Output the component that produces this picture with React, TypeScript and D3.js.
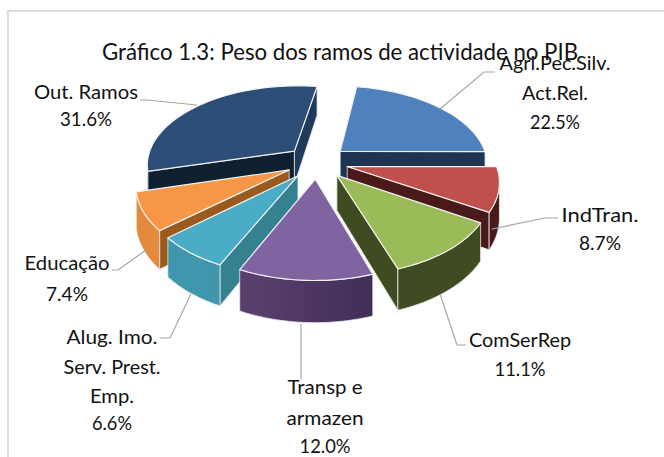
import React from "react";
import * as d3 from "d3";

const categories = ["Agri.Pec.Silv. Act.Rel.", "IndTran.", "ComSerRep", "Transp e armazen", "Alug. Imo. Serv. Prest. Emp.", "Educação", "Out. Ramos"];
const values = [22.5, 8.7, 11.1, 12.0, 6.6, 7.4, 31.6];
const labelLines = [
  ["Agri.Pec.Silv.", "Act.Rel.", "22.5%"],
  ["IndTran.", "8.7%"],
  ["ComSerRep", "11.1%"],
  ["Transp e", "armazen", "12.0%"],
  ["Alug. Imo.", "Serv. Prest.", "Emp.", "6.6%"],
  ["Educação", "7.4%"],
  ["Out. Ramos", "31.6%"],
];
const topColors = ["#4f81bd", "#c0504d", "#9bbb59", "#8064a2", "#4bacc6", "#f79646", "#2c4d75"];
const wallLeft = ["#1d3553", "#6a2523", "#3f4b20", "#5e4272", "#3f97ae", "#e48a3c", "#16293f"];
const wallRight = ["#1d3553", "#4a1a1a", "#3f4b20", "#3a2a50", "#35798c", "#c67a30", "#16293f"];
const cutStart = ["#1d3553", "#4a1a1a", "#3f4b20", "#3a2a50", "#35818f", "#9a5a1e", "#0f2030"];
const cutEnd = ["#1d3553", "#4a1a1a", "#3f4b20", "#3a2a50", "#35818f", "#9a5a1e", "#1f3b5c"];

// layout
const paintOrder = [6, 0, 1, 5, 4, 2, 3];
const labelLayout = [
  { x: 555, ys: [70, 100, 129], ws: [111, 66, 50] },
  { x: 600, ys: [222, 250], ws: [77, 42] },
  { x: 520, ys: [347, 376], ws: [102, 51] },
  { x: 325, ys: [394, 425, 453], ws: [75, 77, 51] },
  { x: 112, ys: [344, 374, 403, 430], ws: [91, 97, 44, 40] },
  { x: 67, ys: [270, 301], ws: [85, 42] },
  { x: 86, ys: [99, 126], ws: [104, 52] },
];
const leaders: [number, number][][] = [
  [[440, 109], [484, 72], [495, 72]],
  [[492, 229], [545, 218], [558, 218]],
  [[440, 294], [457, 345], [466, 345]],
  [[301, 324], [301, 379]],
  [[191, 294], [170, 338], [160, 338]],
  [[146, 250], [118, 270], [112, 270]],
  [[197, 105], [147, 100], [140, 100]],
];
const cx = 317, cy = 162, Rx = 148, Ry = 79, persp = 0.16, explode = 0.21, H = 34;
const FONT = "Lato, 'Open Sans', sans-serif";

const pieGen = d3.pie<number>().sort(null).startAngle((9 * Math.PI) / 180).endAngle((369 * Math.PI) / 180);
const arcs = pieGen(values);

type Pt = { x: number; y: number; f: number };
const project = (u: number, v: number): Pt => {
  const f = 1 / (1 - persp * v);
  return { x: cx + Rx * u * f, y: cy + Ry * v * f, f };
};
const lineGen = d3.line<[number, number]>();
const drop = (p: Pt): [number, number] => [p.x, p.y + H * p.f];
const top = (p: Pt): [number, number] => [p.x, p.y];

export default function App() {
  return (
    <svg width={664} height={457} style={{ position: "absolute", left: 0, top: 0, background: "#fff" }}>
      <defs>
        {arcs.map((a, i) => {
          const mid = (a.startAngle + a.endAngle) / 2;
          const e = project(explode * Math.sin(mid), -explode * Math.cos(mid));
          return (
            <linearGradient key={i} id={`g${i}`} gradientUnits="userSpaceOnUse" x1={e.x - 90} x2={e.x + 90} y1={0} y2={0}>
              <stop offset="0" stopColor={wallLeft[i]} />
              <stop offset="1" stopColor={wallRight[i]} />
            </linearGradient>
          );
        })}
      </defs>
      <rect x={8} y={11} width={700} height={500} fill="#fff" stroke="#dcdcdc" strokeWidth={2} />
      {paintOrder.map((i) => {
        const a = arcs[i];
        const mid = (a.startAngle + a.endAngle) / 2;
        const eu = explode * Math.sin(mid), ev = -explode * Math.cos(mid);
        const apex = project(eu, ev);
        const rim = d3.range(0, 41).map((k) => {
          const t = a.startAngle + ((a.endAngle - a.startAngle) * k) / 40;
          return project(eu + Math.sin(t), ev - Math.cos(t));
        });
        const first = rim[0], last = rim[rim.length - 1];
        const front = rim.filter((p, k) => k < rim.length - 1 && rim[k + 1].x < p.x || (k > 0 && rim[k - 1].x > p.x));
        const topPath = lineGen([top(apex), ...rim.map(top)]) + "Z";
        const quad = (p: Pt, q: Pt) => lineGen([top(p), top(q), drop(q), drop(p)]) + "Z";
        return (
          <g key={i}>
            {first.x < apex.x && <path d={quad(apex, first)} fill={cutStart[i]} stroke="#e8e8e8" strokeWidth={0.8} />}
            {last.x > apex.x && <path d={quad(last, apex)} fill={cutEnd[i]} stroke="#e8e8e8" strokeWidth={0.8} />}
            {front.length > 1 && (
              <path
                d={lineGen([...front.map(top), ...front.slice().reverse().map(drop)]) + "Z"}
                fill={`url(#g${i})`}
                stroke="#e8e8e8"
                strokeWidth={0.8}
              />
            )}
            <path d={topPath} fill={topColors[i]} stroke="#f2f2f2" strokeWidth={1.2} strokeLinejoin="round" />
          </g>
        );
      })}
      {leaders.map((l, i) => (
        <path key={i} d={lineGen(l) ?? ""} fill="none" stroke="#a6a6a6" strokeWidth={1.2} />
      ))}
      <text x={102} y={60} textLength={476} lengthAdjust="spacingAndGlyphs" fontFamily={FONT} fontSize={23} fill="#111">
        Gráfico 1.3: Peso dos ramos de actividade no PIB
      </text>
      {labelLines.map((lines, i) =>
        lines.map((t, j) => (
          <text
            key={`${i}-${j}`}
            x={labelLayout[i].x - labelLayout[i].ws[j] / 2}
            y={labelLayout[i].ys[j]}
            textLength={labelLayout[i].ws[j]}
            lengthAdjust="spacingAndGlyphs"
            fontFamily={FONT}
            fontSize={19}
            fill="#111"
            data-category={categories[i]}
          >
            {t}
          </text>
        ))
      )}
    </svg>
  );
}
